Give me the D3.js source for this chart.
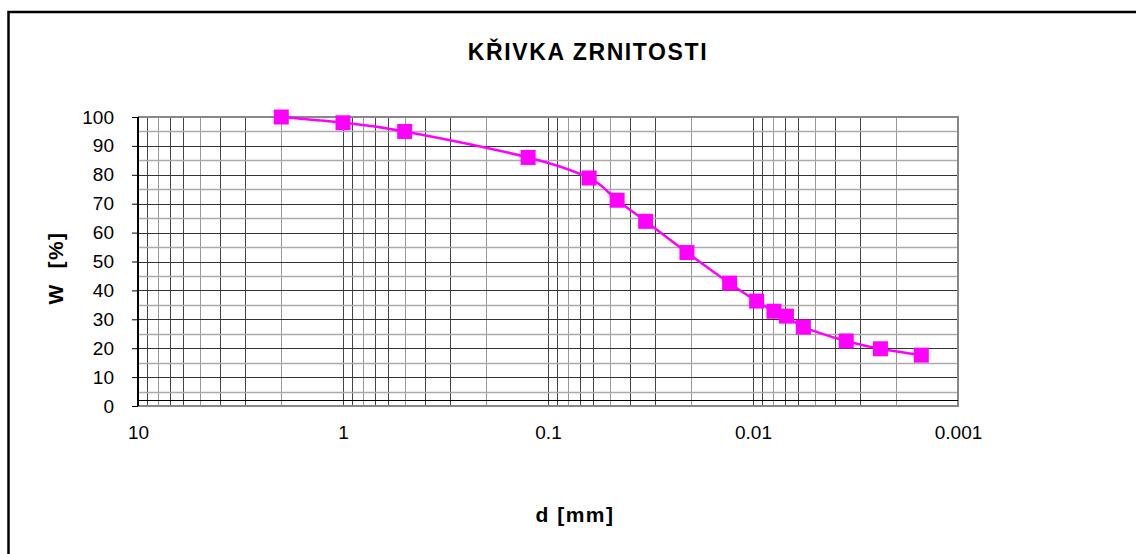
<!DOCTYPE html>
<html>
<head>
<meta charset="utf-8">
<script src="https://cdn.jsdelivr.net/npm/d3@7"></script>
<style>
  body { margin: 0; background: #fff; }
  text { font-family: "Liberation Sans", Arial, sans-serif; }
</style>
</head>
<body>
<script>
var w = 1136;
var h = 554;
var margin = { top: 117, right: 178, bottom: 148, left: 138 };

// grain size d [mm] and passing W [%]
var diameters = [2, 1, 0.5, 0.125, 0.063, 0.046, 0.0334, 0.021, 0.013, 0.0096, 0.0079, 0.00687, 0.00568, 0.00351, 0.00239, 0.00151];
var passing = [100, 98, 95, 86, 78.9, 71.2, 63.9, 53.1, 42.5, 36.3, 32.8, 31.1, 27.3, 22.5, 19.8, 17.6];
var xTicks = [10, 1, 0.1, 0.01, 0.001];
var yTicks = [0, 10, 20, 30, 40, 50, 60, 70, 80, 90, 100];

var pw = w - margin.left - margin.right;
var ph = h - margin.top - margin.bottom;

var svg = d3.select("body")
    .append("svg")
    .attr("width", w)
    .attr("height", h);

// outer frame (only left and top edges fall inside the picture)
svg.append("rect")
    .attr("x", 8.5).attr("y", 12)
    .attr("width", 1200).attr("height", 600)
    .attr("fill", "none")
    .attr("stroke", "#000")
    .attr("stroke-width", 2.5);

svg.append("text")
    .attr("x", 588).attr("y", 60)
    .attr("text-anchor", "middle")
    .attr("font-size", 23)
    .attr("font-weight", "bold")
    .attr("letter-spacing", 1.6)
    .text("KŘIVKA ZRNITOSTI");

var g = svg.append("g")
    .attr("transform", "translate(" + margin.left + "," + margin.top + ")");

var xScale = d3.scaleLog()
    .domain([10, 0.001])
    .range([0, pw]);

var yScale = d3.scaleLinear()
    .domain([0, 100])
    .range([ph, 0]);

// vertical grid: every 1..9 x decade
var vLines = [];
for (var e = -3; e < 1; e++) {
    for (var k = 1; k < 10; k++) {
        vLines.push(k * Math.pow(10, e));
    }
}
g.selectAll(".vgrid")
    .data(vLines)
    .enter()
    .append("line")
    .attr("class", "vgrid")
    .attr("x1", function (d) { return Math.round(xScale(d)) + 0.5; })
    .attr("x2", function (d) { return Math.round(xScale(d)) + 0.5; })
    .attr("y1", 0)
    .attr("y2", ph)
    .attr("stroke", function (d, i) { return i % 3 == 1 ? "#999" : "#444"; })
    .attr("stroke-width", 1);

// horizontal grid every 5 %
g.selectAll(".hgrid")
    .data(d3.range(5, 100, 5))
    .enter()
    .append("line")
    .attr("class", "hgrid")
    .attr("x1", 0)
    .attr("x2", pw)
    .attr("y1", function (d) { return Math.round(yScale(d)) + 0.5; })
    .attr("y2", function (d) { return Math.round(yScale(d)) + 0.5; })
    .attr("stroke", function (d) { return d % 10 == 0 ? "#333" : "#aaa"; })
    .attr("stroke-width", function (d) { return d % 10 == 0 ? 1 : 1.5; });

// plot area border
g.append("path")
    .attr("d", "M0,0H" + pw + "V" + ph + "H0")
    .attr("fill", "none")
    .attr("stroke", "#888")
    .attr("stroke-width", 2);

// x axis line sits slightly above the bottom border
g.append("line")
    .attr("x1", 0).attr("x2", pw)
    .attr("y1", Math.round(yScale(2)) + 0.5)
    .attr("y2", Math.round(yScale(2)) + 0.5)
    .attr("stroke", "#000");

// Y axis
var yAxis = d3.axisLeft(yScale)
    .tickValues(yTicks)
    .tickSize(6)
    .tickPadding(18);

var ya = g.append("g")
    .attr("class", "y-axis")
    .call(yAxis);
ya.select(".domain").attr("stroke", "#000").attr("stroke-width", 2).attr("d", "M0,0V" + ph);
ya.selectAll("text").attr("font-size", 19).attr("fill", "#000").attr("font-family", "Liberation Sans, Arial, sans-serif");

// X axis labels (no tick marks shown)
var xAxis = d3.axisBottom(xScale)
    .tickValues(xTicks)
    .tickSize(0)
    .tickPadding(20)
    .tickFormat(function (d) { return String(d); });

var xa = g.append("g")
    .attr("class", "x-axis")
    .attr("transform", "translate(0," + ph + ")")
    .call(xAxis);
xa.select(".domain").remove();
xa.selectAll("text").attr("font-size", 19).attr("fill", "#000").attr("font-family", "Liberation Sans, Arial, sans-serif");

// axis titles
svg.append("text")
    .attr("x", 575).attr("y", 522)
    .attr("text-anchor", "middle")
    .attr("font-size", 21)
    .attr("font-weight", "bold")
    .attr("letter-spacing", 1.5)
    .text("d [mm]");

svg.append("text")
    .attr("transform", "translate(63,268) rotate(-90)")
    .attr("text-anchor", "middle")
    .attr("font-size", 21)
    .attr("font-weight", "bold")
    .attr("letter-spacing", 1.5)
    .attr("xml:space", "preserve")
    .text("W  [%]");

// grading curve
var line = d3.line()
    .x(function (d, i) { return xScale(diameters[i]); })
    .y(function (d) { return yScale(d); })
    .curve(d3.curveCatmullRom.alpha(0));

g.append("path")
    .datum(passing)
    .attr("d", line)
    .attr("fill", "none")
    .attr("stroke", "#ff00ff")
    .attr("stroke-width", 2.5);

g.selectAll(".pt")
    .data(passing)
    .enter()
    .append("rect")
    .attr("class", "pt")
    .attr("x", function (d, i) { return xScale(diameters[i]) - 7.5; })
    .attr("y", function (d) { return yScale(d) - 7.5; })
    .attr("width", 15)
    .attr("height", 15)
    .attr("fill", "#ff00ff");
</script>
</body>
</html>
